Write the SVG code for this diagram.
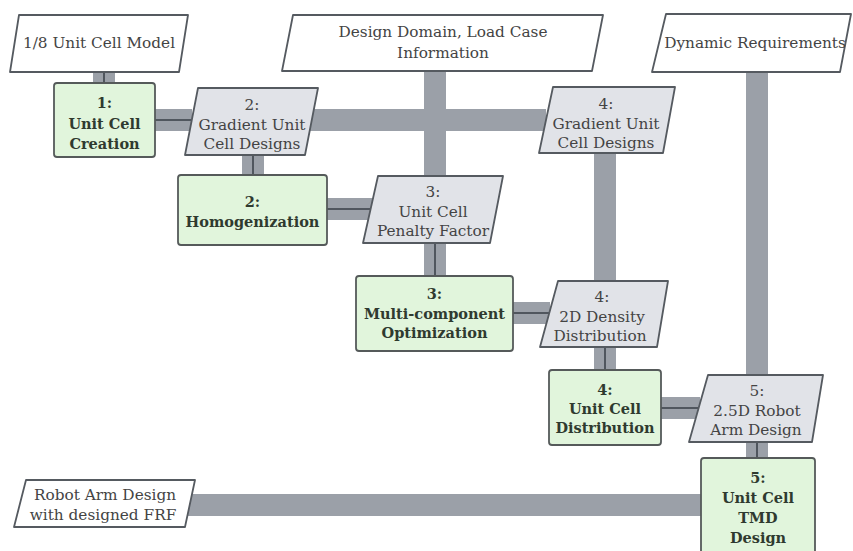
<svg xmlns="http://www.w3.org/2000/svg" width="853" height="551" viewBox="0 0 853 551">
<style>
.band{stroke:#9ba0a8;stroke-width:22;fill:none}
.proc{stroke:#50565e;stroke-width:2;fill:none}
.inp{fill:#ffffff;stroke:#555a60;stroke-width:1.8;stroke-linejoin:round}
.dat{fill:#e1e3e8;stroke:#555a60;stroke-width:1.8;stroke-linejoin:round}
.fn{fill:#e1f5dc;stroke:#555a5a;stroke-width:1.8}
.t{font-family:"DejaVu Serif","Liberation Serif",serif;font-size:15.3px;fill:#444;text-anchor:middle}
.b{font-family:"DejaVu Serif","Liberation Serif",serif;font-size:14.5px;font-weight:bold;fill:#2f3a2f;text-anchor:middle}
</style>
<rect width="853" height="551" fill="#ffffff"/>
<g id="connectors">
<path class="band" d="M104,72V83"/><path class="proc" d="M104,72V83"/>
<path class="band" d="M155,120H192"/><path class="proc" d="M155,120H192"/>
<path class="band" d="M308,120H546"/>
<path class="band" d="M435,71V177"/>
<path class="band" d="M253,155V175"/><path class="proc" d="M253,155V175"/>
<path class="band" d="M327,209H372"/><path class="proc" d="M327,209H372"/>
<path class="band" d="M435,243V276"/><path class="proc" d="M435,243V276"/>
<path class="band" d="M605,153V281"/>
<path class="band" d="M513,313H550"/><path class="proc" d="M513,313H550"/>
<path class="band" d="M605,347V370"/><path class="proc" d="M605,347V370"/>
<path class="band" d="M757,72V376"/>
<path class="band" d="M661,408H700"/><path class="proc" d="M661,408H700"/>
<path class="band" d="M757,442V458"/><path class="proc" d="M757,442V458"/>
<path class="band" d="M188,505H701"/>
</g>
<g id="in-unitcell">
<polygon class="inp" points="19,15 188,15 179,72 10,72"/>
<text class="t" x="99" y="48">1/8 Unit Cell Model</text>
</g>
<g id="in-design">
<polygon class="inp" points="293,15 603,15 592,71 282,71"/>
<text class="t" x="443" y="37">Design Domain, Load Case</text>
<text class="t" x="443" y="58">Information</text>
</g>
<g id="in-dynamic">
<polygon class="inp" points="666,14 851,14 840,72 652,72"/>
<text class="t" x="755" y="48">Dynamic Requirements</text>
</g>
<g id="f1-creation">
<rect class="fn" x="54" y="83" width="101" height="74" rx="3"/>
<text class="b" x="104.5" y="108">1:</text>
<text class="b" x="104.5" y="129">Unit Cell</text>
<text class="b" x="104.5" y="149">Creation</text>
</g>
<g id="d2-gradient">
<polygon class="dat" points="198,88 318,88 305,155 185,155"/>
<text class="t" x="252" y="110">2:</text>
<text class="t" x="252" y="130">Gradient Unit</text>
<text class="t" x="252" y="149">Cell Designs</text>
</g>
<g id="d4-gradient">
<polygon class="dat" points="553,87 675,87 663,153 539,153"/>
<text class="t" x="606" y="109">4:</text>
<text class="t" x="606" y="129">Gradient Unit</text>
<text class="t" x="606" y="148">Cell Designs</text>
</g>
<g id="f2-homog">
<rect class="fn" x="178" y="175" width="149" height="70" rx="3"/>
<text class="b" x="252.5" y="207">2:</text>
<text class="b" x="252.5" y="227">Homogenization</text>
</g>
<g id="d3-penalty">
<polygon class="dat" points="378,176 503,176 490,243 363,243"/>
<text class="t" x="433" y="197">3:</text>
<text class="t" x="433" y="217">Unit Cell</text>
<text class="t" x="433" y="236">Penalty Factor</text>
</g>
<g id="f3-multi">
<rect class="fn" x="356" y="276" width="157" height="75" rx="3"/>
<text class="b" x="434.5" y="299">3:</text>
<text class="b" x="434.5" y="319">Multi-component</text>
<text class="b" x="434.5" y="338">Optimization</text>
</g>
<g id="d4-density">
<polygon class="dat" points="558,281 668,281 657,347 540,347"/>
<text class="t" x="602" y="302">4:</text>
<text class="t" x="602" y="322">2D Density</text>
<text class="t" x="600" y="341">Distribution</text>
</g>
<g id="f4-distribution">
<rect class="fn" x="549" y="370" width="112" height="75" rx="3"/>
<text class="b" x="605" y="395">4:</text>
<text class="b" x="605" y="414">Unit Cell</text>
<text class="b" x="605" y="433">Distribution</text>
</g>
<g id="d5-robot">
<polygon class="dat" points="708,375 823,375 812,442 689,442"/>
<text class="t" x="757" y="396">5:</text>
<text class="t" x="757" y="416">2.5D Robot</text>
<text class="t" x="756" y="435">Arm Design</text>
</g>
<g id="f5-tmd">
<rect class="fn" x="701" y="458" width="114" height="100" rx="3"/>
<text class="b" x="758" y="483">5:</text>
<text class="b" x="758" y="503">Unit Cell</text>
<text class="b" x="758" y="523">TMD</text>
<text class="b" x="758" y="543">Design</text>
</g>
<g id="in-robotarm">
<polygon class="inp" points="26,480 195,480 185,527 14,527"/>
<text class="t" x="105" y="500">Robot Arm Design</text>
<text class="t" x="103" y="520">with designed FRF</text>
</g>
</svg>
